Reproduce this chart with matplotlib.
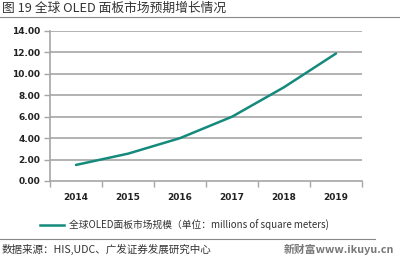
import matplotlib
matplotlib.use("Agg")
import matplotlib.pyplot as plt
from matplotlib.lines import Line2D

plt.rcParams['font.family'] = ['Noto Sans CJK SC', 'DejaVu Sans']

years = ['2014', '2015', '2016', '2017', '2018', '2019']
values = [1.5, 2.55, 4.0, 6.0, 8.75, 11.9]
yticks = [0, 2, 4, 6, 8, 10, 12, 14]
title = '图 19 全球 OLED 面板市场预期增长情况'
legend_label = '全球OLED面板市场规模（单位：millions of square meters)'
source = '数据来源：HIS,UDC、广发证券发展研究中心'
watermark = '新财富www.ikuyu.cn'

line_color = '#148a7c'
grid_color = '#a6a6a6'

fig = plt.figure(figsize=(4.0, 2.64), dpi=100)
ax = fig.add_axes([0.125, 0.3144, 0.78, 0.5682])

x = list(range(len(years)))
ax.plot(x, values, color=line_color, lw=1.8, solid_capstyle='round')
ax.set_xlim(-0.5, len(years) - 0.5)
ax.set_ylim(0, 14)
ax.set_yticks(yticks)
ax.set_yticklabels([f'{v:.2f}' for v in yticks], fontsize=6.5, fontweight='bold',
                   family='DejaVu Sans', color='#222222')
ax.set_xticks(x)
ax.set_xticklabels(years, fontsize=6.5, fontweight='bold', family='DejaVu Sans', color='#222222')
ax.tick_params(axis='x', length=0, pad=9)
ax.tick_params(axis='y', length=4, width=1, color=grid_color, pad=3)
ax.set_xticks([i - 0.5 for i in range(len(years) + 1)], minor=True)
ax.tick_params(axis='x', which='minor', length=4, width=1, color=grid_color)
for yv in yticks[1:]:
    ax.axhline(yv, color=grid_color, lw=1.2, zorder=0)
for s in ['top', 'right']:
    ax.spines[s].set_visible(False)
ax.spines['left'].set_color(grid_color)
ax.spines['bottom'].set_color(grid_color)
ax.spines['left'].set_linewidth(1.2)
ax.spines['bottom'].set_linewidth(1.2)

# title
fig.text(0.005, 1 - 8 / 264, title, fontsize=9.2, color='#333333', va='center', ha='left')
fig.add_artist(Line2D([0, 1], [1 - 17 / 264, 1 - 17 / 264], color='#888888', lw=0.8))

# legend
ly = 1 - 225 / 264
fig.add_artist(Line2D([40 / 400, 64 / 400], [ly, ly], color=line_color, lw=1.8))
fig.text(69 / 400, ly, legend_label, fontsize=7.0, color='#333333', va='center', ha='left')

# footer
fig.add_artist(Line2D([0, 375 / 400], [1 - 239 / 264, 1 - 239 / 264], color='#888888', lw=0.8))
fig.text(0.005, 1 - 249 / 264, source, fontsize=7.6, color='#333333', va='center', ha='left')
fig.text(0.985, 1 - 249 / 264, watermark, fontsize=7.8, color='#777777', va='center',
         ha='right', fontweight='bold')

fig.savefig('out.png', dpi=100)
